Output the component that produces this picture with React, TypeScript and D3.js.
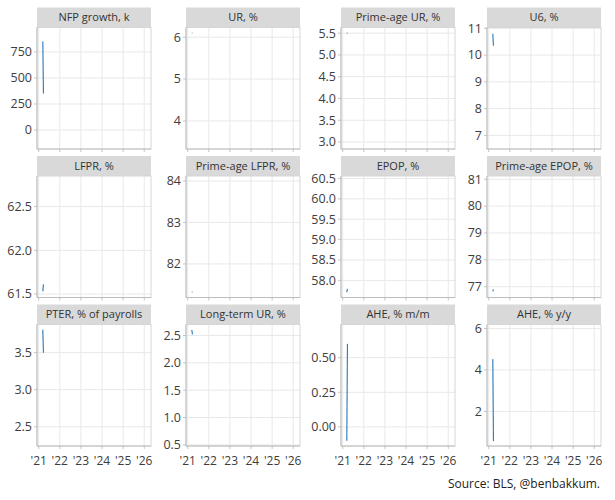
import * as d3 from 'd3';

// Panel titles, in facet order (4 columns x 3 rows)
const panelTitles = [
  'NFP growth, k',
  'UR, %',
  'Prime-age UR, %',
  'U6, %',
  'LFPR, %',
  'Prime-age LFPR, %',
  'EPOP, %',
  'Prime-age EPOP, %',
  'PTER, % of payrolls',
  'Long-term UR, %',
  'AHE, % m/m',
  'AHE, % y/y',
];

// First observations shown (early 2021) as decimal years
const months = [2021.195, 2021.225];

const nfpGrowth = [850, 350];
const urRate = [6.1, 6.1];
const primeUr = [5.5, 5.5];
const u6Rate = [10.8, 10.35];
const lfpr = [61.53, 61.61];
const primeLfpr = [81.32, 81.32];
const epop = [57.71, 57.79];
const primeEpop = [76.83, 76.9];
const pter = [3.81, 3.5];
const longTermUr = [2.6, 2.52];
const aheMoM = [-0.1, 0.6];
const aheYoY = [4.52, 0.57];

const seriesValues = [
  nfpGrowth, urRate, primeUr, u6Rate,
  lfpr, primeLfpr, epop, primeEpop,
  pter, longTermUr, aheMoM, aheYoY,
];

// free y scales (full-sample ranges)
const yDomains: [number, number][] = [
  [-182, 984], [3.33, 6.23], [2.84, 5.63], [6.49, 11.03],
  [61.46, 62.85], [81.19, 84.12], [57.58, 60.56], [76.6, 81.12],
  [2.24, 3.88], [0.48, 2.7], [-0.138, 0.74], [0.33, 6.19],
];

const yTicks = [
  [0, 250, 500, 750], [4, 5, 6], [3, 3.5, 4, 4.5, 5, 5.5], [7, 8, 9, 10, 11],
  [61.5, 62, 62.5], [82, 83, 84], [58, 58.5, 59, 59.5, 60, 60.5], [77, 78, 79, 80, 81],
  [2.5, 3, 3.5], [0.5, 1, 1.5, 2, 2.5], [0, 0.25, 0.5], [2, 4, 6],
];
const yFormats = ['d', 'd', '.1f', 'd', '.1f', 'd', '.1f', 'd', '.1f', '.1f', '.2f', 'd'];

const yearTicks = [2021, 2022, 2023, 2024, 2025, 2026];
const xDomain: [number, number] = [2020.92, 2026.32];

const caption = 'Source: BLS, @benbakkum.';

// layout
const W = 615;
const H = 500;
const colLeft = [37, 186, 341, 487];
const rowTop = [27.5, 176, 324.5];
const panelW = 114;
const panelH = 121.5;
const stripH = 20;

const FONT = '"Open Sans", "Noto Sans", sans-serif';
const LINE = '#2a77b8';
const GRID = '#e8e8e8';
const BORDER = '#d6d6d6';
const AXIS = '#b5b5b5';

function Panel({ i }: { i: number }) {
  const col = i % 4;
  const row = Math.floor(i / 4);
  const x0 = colLeft[col];
  const y0 = rowTop[row];

  const x = d3.scaleLinear().domain(xDomain).range([0, panelW]);
  const y = d3.scaleLinear().domain(yDomains[i]).range([panelH, 0]);
  const fmt = d3.format(yFormats[i]);

  const line = d3
    .line<number>()
    .x((_, k) => x(months[k]))
    .y((d) => y(d));

  return (
    <g transform={`translate(${x0},${y0})`}>
      {/* strip */}
      <rect x={0} y={-stripH} width={panelW} height={stripH} fill="#d9d9d9" />
      <text
        x={panelW / 2}
        y={-stripH / 2}
        dy="0.35em"
        textAnchor="middle"
        fontSize={11}
        fill="#333"
      >
        {panelTitles[i]}
      </text>

      {/* grid */}
      {yTicks[i].map((t) => (
        <line key={`h${t}`} x1={0} x2={panelW} y1={y(t)} y2={y(t)} stroke={GRID} strokeWidth={1} />
      ))}
      {yearTicks.map((t) => (
        <line key={`v${t}`} x1={x(t)} x2={x(t)} y1={0} y2={panelH} stroke={GRID} strokeWidth={1} />
      ))}

      <rect x={0} y={0} width={panelW} height={panelH} fill="none" stroke={BORDER} strokeWidth={1} />
      <line x1={0} x2={0} y1={0} y2={panelH} stroke={AXIS} strokeWidth={0.8} />
      <line x1={0} x2={panelW} y1={panelH} y2={panelH} stroke={AXIS} strokeWidth={0.8} />

      {/* y axis */}
      {yTicks[i].map((t) => (
        <g key={`yt${t}`}>
          <line x1={-3} x2={0} y1={y(t)} y2={y(t)} stroke={AXIS} strokeWidth={0.8} />
          <text x={-5} y={y(t)} dy="0.35em" textAnchor="end" fontSize={12.5} fill="#3d3d3d">
            {fmt(t)}
          </text>
        </g>
      ))}

      {/* x axis */}
      {yearTicks.map((t) => (
        <g key={`xt${t}`}>
          <line x1={x(t)} x2={x(t)} y1={panelH} y2={panelH + 3} stroke={AXIS} strokeWidth={0.8} />
          {row === 2 && (
            <text x={x(t)} y={panelH + 15} dy="0.35em" textAnchor="middle" fontSize={12} fill="#3d3d3d">
              {`'${String(t).slice(2)}`}
            </text>
          )}
        </g>
      ))}

      <path d={line(seriesValues[i]) ?? ''} fill="none" stroke={LINE} strokeWidth={1.1} />
    </g>
  );
}

export default function App() {
  return (
    <svg
      width={W}
      height={H}
      style={{ position: 'absolute', left: 0, top: 0, background: '#fff' }}
      fontFamily={FONT}
    >
      <rect width={W} height={H} fill="#fff" />
      {panelTitles.map((_, i) => (
        <Panel key={i} i={i} />
      ))}
      <text x={600} y={484} dy="0.35em" textAnchor="end" fontSize={12} fill="#222">
        {caption}
      </text>
    </svg>
  );
}
